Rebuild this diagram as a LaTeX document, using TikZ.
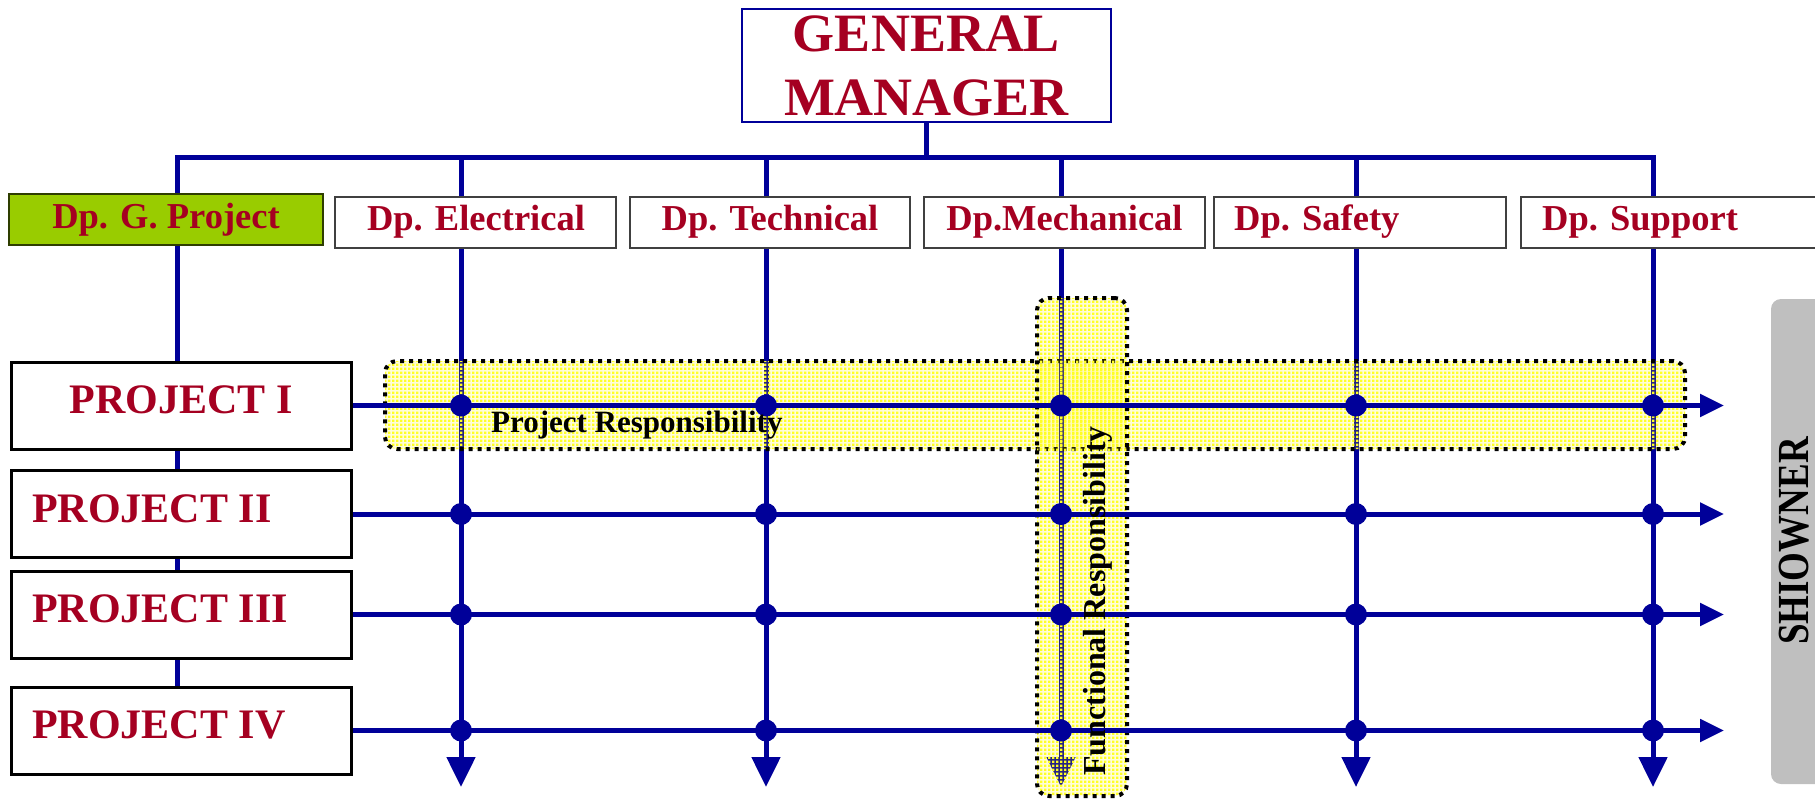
\documentclass[tikz,border=0pt]{standalone}
\usepackage{fontspec}
\usepackage{graphicx}
\setmainfont{Liberation Serif}
\usetikzlibrary{arrows.meta,patterns}
\definecolor{navy}{RGB}{0,0,153}
\definecolor{crimson}{RGB}{165,0,33}
\definecolor{leaf}{RGB}{153,204,0}
\definecolor{shade}{RGB}{191,191,191}
\pgfdeclarelayer{wires}
\pgfdeclarelayer{glow}
\pgfdeclarelayer{labels}
\pgfsetlayers{wires,glow,main,labels}

% fine mesh: square cells separated by thin open lines
\pgfdeclarepatternformonly{mesh}{\pgfpointorigin}{\pgfpoint{4pt}{4pt}}{\pgfpoint{4pt}{4pt}}{%
  \pgfpathrectangle{\pgfpointorigin}{\pgfpoint{3pt}{3pt}}%
  \pgfusepath{fill}}

\begin{document}
\begin{tikzpicture}[x=1pt,y=-1pt,
  wire/.style={draw=navy,line width=5pt},
  rwire/.style={wire,-{Triangle[length=24pt,width=22pt]}},
  dwire/.style={wire,-{Triangle[length=30pt,width=28pt]}},
  dept/.style={draw=black!75,line width=1.5pt,fill=white,minimum height=51pt,inner sep=0pt},
  proj/.style={draw=black,line width=3pt,fill=white,minimum width=340pt,minimum height=87pt,inner sep=0pt},
  depttxt/.style={text=crimson,font=\bfseries\fontsize{36.5}{40}\selectfont,inner sep=0pt},
  projtxt/.style={text=crimson,font=\bfseries\fontsize{42}{46}\selectfont,inner sep=0pt},
  glowbox/.style={preaction={fill=yellow,fill opacity=0.15},pattern=mesh,pattern color=yellow!85!white,
                  draw=black,line width=4pt,dash pattern=on 4pt off 5pt,rounded corners=12pt,inner sep=0pt},
  joint/.style={circle,fill=navy,inner sep=0pt,minimum size=22pt},
  tag/.style={inner sep=0pt,text=black},
]
\useasboundingbox (0,0) rectangle (1815,798);

% top of the hierarchy
\node[draw=navy,line width=2.5pt,fill=white,minimum width=369pt,minimum height=113pt,
      align=center,text=crimson,font=\bfseries\fontsize{54}{64}\selectfont,inner sep=0pt]
  (gm) at (926.5,65.5) {GENERAL\\MANAGER};

% departments
\node[dept,fill=leaf,draw=black!70!leaf,minimum width=314pt] (gp) at (166,219.5) {};
\node[depttxt,anchor=base] (gpt) at (166,228) {Dp. G. Project};
\node[dept,minimum width=281pt] (el) at (475.5,222.5) {};
\node[depttxt,anchor=base] (elt) at (476,230) {Dp. Electrical};
\node[dept,minimum width=280pt] (te) at (770,222.5) {};
\node[depttxt,anchor=base] (tet) at (770,230) {Dp. Technical};
\node[dept,minimum width=281pt] (me) at (1064.5,222.5) {};
\node[depttxt,anchor=base] (met) at (1064.5,230) {Dp.Mechanical};
\node[dept,minimum width=292pt] (sa) at (1360,222.5) {};
\node[depttxt,anchor=base west] (sat) at (1234,230) {Dp. Safety};
\node[dept,minimum width=318pt] (su) at (1680,222.5) {};
\node[depttxt,anchor=base west] (sut) at (1542,230) {Dp. Support};

% projects
\node[proj] (p1) at (181,405.5) {};
\node[projtxt,anchor=base] (p1t) at (181,413) {PROJECT I};
\node[proj] (p2) at (181,514) {};
\node[projtxt,anchor=base west] (p2t) at (32,522) {PROJECT II};
\node[proj] (p3) at (181,614.5) {};
\node[projtxt,anchor=base west] (p3t) at (32,622) {PROJECT III};
\node[proj] (p4) at (181,730.5) {};
\node[projtxt,anchor=base west] (p4t) at (32,738) {PROJECT IV};

% ship owner side bar
\node[fill=shade,rounded corners=10pt,minimum width=80pt,minimum height=485pt,inner sep=0pt]
  (shi) at (1811,541.5) {};
\node[tag,anchor=base,rotate=90,font=\bfseries\fontsize{37}{40}\selectfont]
  (shit) at (1808,541) {\scalebox{1}[1.2]{SHIOWNER}};

% column positions on the bus, bottom and right limits
\coordinate (bgp) at (177,157);
\coordinate (bel) at (461,157);
\coordinate (bte) at (766,157);
\coordinate (bme) at (1061,157);
\coordinate (bsa) at (1356,157);
\coordinate (bsu) at (1653,157);
\coordinate (floor) at (0,787);
\coordinate (edge) at (1724,0);

% hierarchy lines and functional columns
\begin{pgfonlayer}{wires}
  \draw[wire] (gm.south) -- (gm.south |- bgp);
  \draw[dwire] (bgp |- p4.north) -- (bgp) -- (bsu) -- (bsu |- floor);
  \foreach \c in {bel,bte,bme,bsa}
    \draw[dwire] (\c) -- (\c |- floor);
\end{pgfonlayer}

% responsibility bands
\begin{pgfonlayer}{glow}
  \node[glowbox,minimum width=1300pt,minimum height=88pt] (pband) at (1035,405) {};
  \node[glowbox,minimum width=90pt,minimum height=498pt] (fband) at (1082,547) {};
\end{pgfonlayer}

% project rows
\foreach \p in {p1,p2,p3,p4}
  \draw[rwire] (\p.east) -- (\p.east -| edge);

% crossings
\foreach \p in {p1,p2,p3,p4}
  \foreach \c in {bel,bte,bme,bsa,bsu}
    \node[joint] (j-\p-\c) at (\c |- \p.east) {};

\begin{pgfonlayer}{labels}
  \node[tag,anchor=base west,font=\bfseries\fontsize{31}{34}\selectfont]
    (ptag) at (491,432) {Project Responsibility};
  \node[tag,anchor=base,rotate=90,font=\bfseries\fontsize{32}{36}\selectfont]
    (ftag) at (1105,601) {Functional Responsibility};
\end{pgfonlayer}
\end{tikzpicture}
\end{document}
